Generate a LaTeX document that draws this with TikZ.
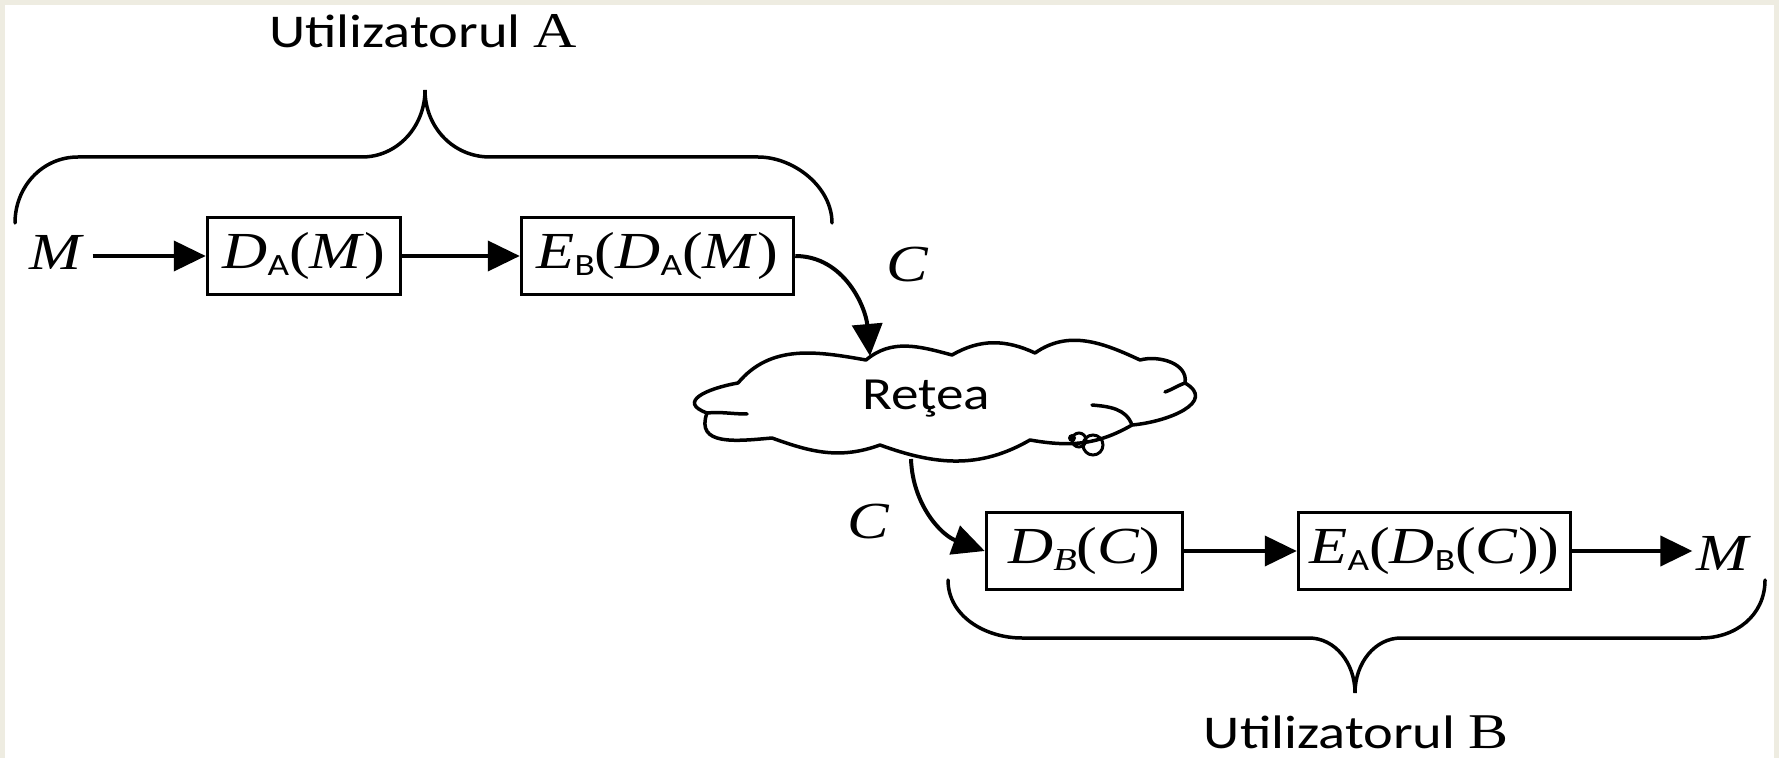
\documentclass[tikz,border=0pt]{standalone}
\usepackage{fontspec}
\setmainfont{Liberation Serif}[FakeStretch=1.2]
\newfontfamily\sansF{Carlito}[FakeStretch=1.2]
\usetikzlibrary{arrows.meta}
\definecolor{bgbeige}{RGB}{238,236,225}
\newcommand\BoxFont{\fontsize{52}{58}\selectfont}
\newcommand\IT[1]{\textit{#1}}
\newcommand\SubS[1]{\raisebox{-0.14em}{\fontsize{31}{33}\selectfont\sansF #1}}
\newcommand\SubI[1]{\raisebox{-0.14em}{\fontsize{32}{34}\selectfont\itshape #1}}
\tikzset{
  box/.style={draw, line width=3.5pt, minimum height=77pt, inner sep=1pt, font=\BoxFont},
  arr/.style={line width=4pt, -{Triangle[length=32pt,width=30pt]}},
  brc/.style={line width=3.5pt, line cap=round},
  cld/.style={line width=3.5pt, line join=round, line cap=round},
  lbl/.style={font=\BoxFont, inner sep=8pt},
  utxt/.style={font=\sansF\fontsize{47}{52}\selectfont, inner sep=0pt},
}
\begin{document}
\begin{tikzpicture}[x=1pt,y=1pt]
\fill[bgbeige] (0,0) rectangle (1779,758);
\fill[white] (5,0) rectangle (1774,753);
\useasboundingbox (0,0) rectangle (1779,758);

% user A
\node[utxt, anchor=base] (uA) at (423,710) {Utilizatorul {\rmfamily\fontsize{50}{52}\selectfont A}};
\draw[brc] (15,535) .. controls (15,571) and (42,601) .. (78,601) -- (362,601)
  .. controls (397,601) and (425,631) .. (425,668)
  .. controls (425,631) and (453,601) .. (490,601) -- (758,601)
  .. controls (794,601) and (832,571) .. (832,535);

\node[lbl, anchor=base] (mA) at (57,488) {\IT{M}};
\node[box, minimum width=193pt] (b1) at (304,502) {\IT{D}\SubS{A}(\IT{M})};
\node[box, minimum width=272pt] (b2) at (657.5,502) {\IT{E}\SubS{B}(\IT{D}\SubS{A}(\IT{M})};
\draw[arr] (mA.east |- b1.west) -- (b1.west);
\draw[arr] (b1.east) -- (b2.west);

% cloud
\coordinate (cloudtop) at (870,402);
\coordinate (cloudbot) at (911,299);
\draw[cld, fill=white] (738,375)
  to[out=50,in=170] (866,398)
  to[out=40,in=165] (952,403)
  to[out=30,in=155] (1035,405)
  to[out=35,in=155] (1140,398)
  to[out=15,in=80] (1185,375)
  to[out=-30,in=5,looseness=1.4] (1132,333)
  to[out=-150,in=-10] (1030,318)
  to[out=-150,in=-20] (880,313)
  to[out=-160,in=-20] (772,320)
  to[out=185,in=-110,looseness=1.3] (707,345)
  to[out=160,in=190,looseness=1.9] (738,375) -- cycle;
\draw[cld] (707,345) to[out=5,in=180] (747,344);
\draw[cld] (1185,375) to[out=200,in=20] (1165,366);
\draw[cld] (1092,353) to[out=-5,in=110] (1132,333);
\fill (1072,320) circle (4);
\draw[line width=3pt] (1079,318) circle (7);
\draw[line width=3pt] (1093,313) circle (10);
\node[font=\sansF\fontsize{46}{50}\selectfont, anchor=base, inner sep=0pt] (net) at (926,348) {Reţea};

\node[lbl, anchor=base] (c1) at (908,476) {\IT{C}};
\draw[arr] (b2.east) to[out=0,in=95] (cloudtop);

% user B
\node[box, minimum width=196pt] (b3) at (1084.5,207) {\IT{D}\SubI{B}(\IT{C})};
\node[box, minimum width=272pt] (b4) at (1434.5,207) {\IT{E}\SubS{A}(\IT{D}\SubS{B}(\IT{C}))};
\node[lbl, anchor=base] (c2) at (869,220) {\IT{C}};
\node[lbl, anchor=base, inner sep=4pt] (mB) at (1724,188) {\IT{M}};
\draw[arr] (cloudbot) to[out=-88,in=160] (b3.west);
\draw[arr] (b3.east) -- (b4.west);
\draw[arr] (b4.east) -- (mB.west |- b4.east);

\draw[brc] (948,178) .. controls (948,142) and (985,120) .. (1022,120) -- (1309,120)
  .. controls (1335,120) and (1355,95) .. (1355,65)
  .. controls (1355,95) and (1375,120) .. (1401,120) -- (1701,120)
  .. controls (1735,120) and (1765,142) .. (1765,178);
\node[utxt, anchor=base] (uB) at (1356,10) {Utilizatorul {\rmfamily\fontsize{50}{52}\selectfont B}};
\end{tikzpicture}
\end{document}
